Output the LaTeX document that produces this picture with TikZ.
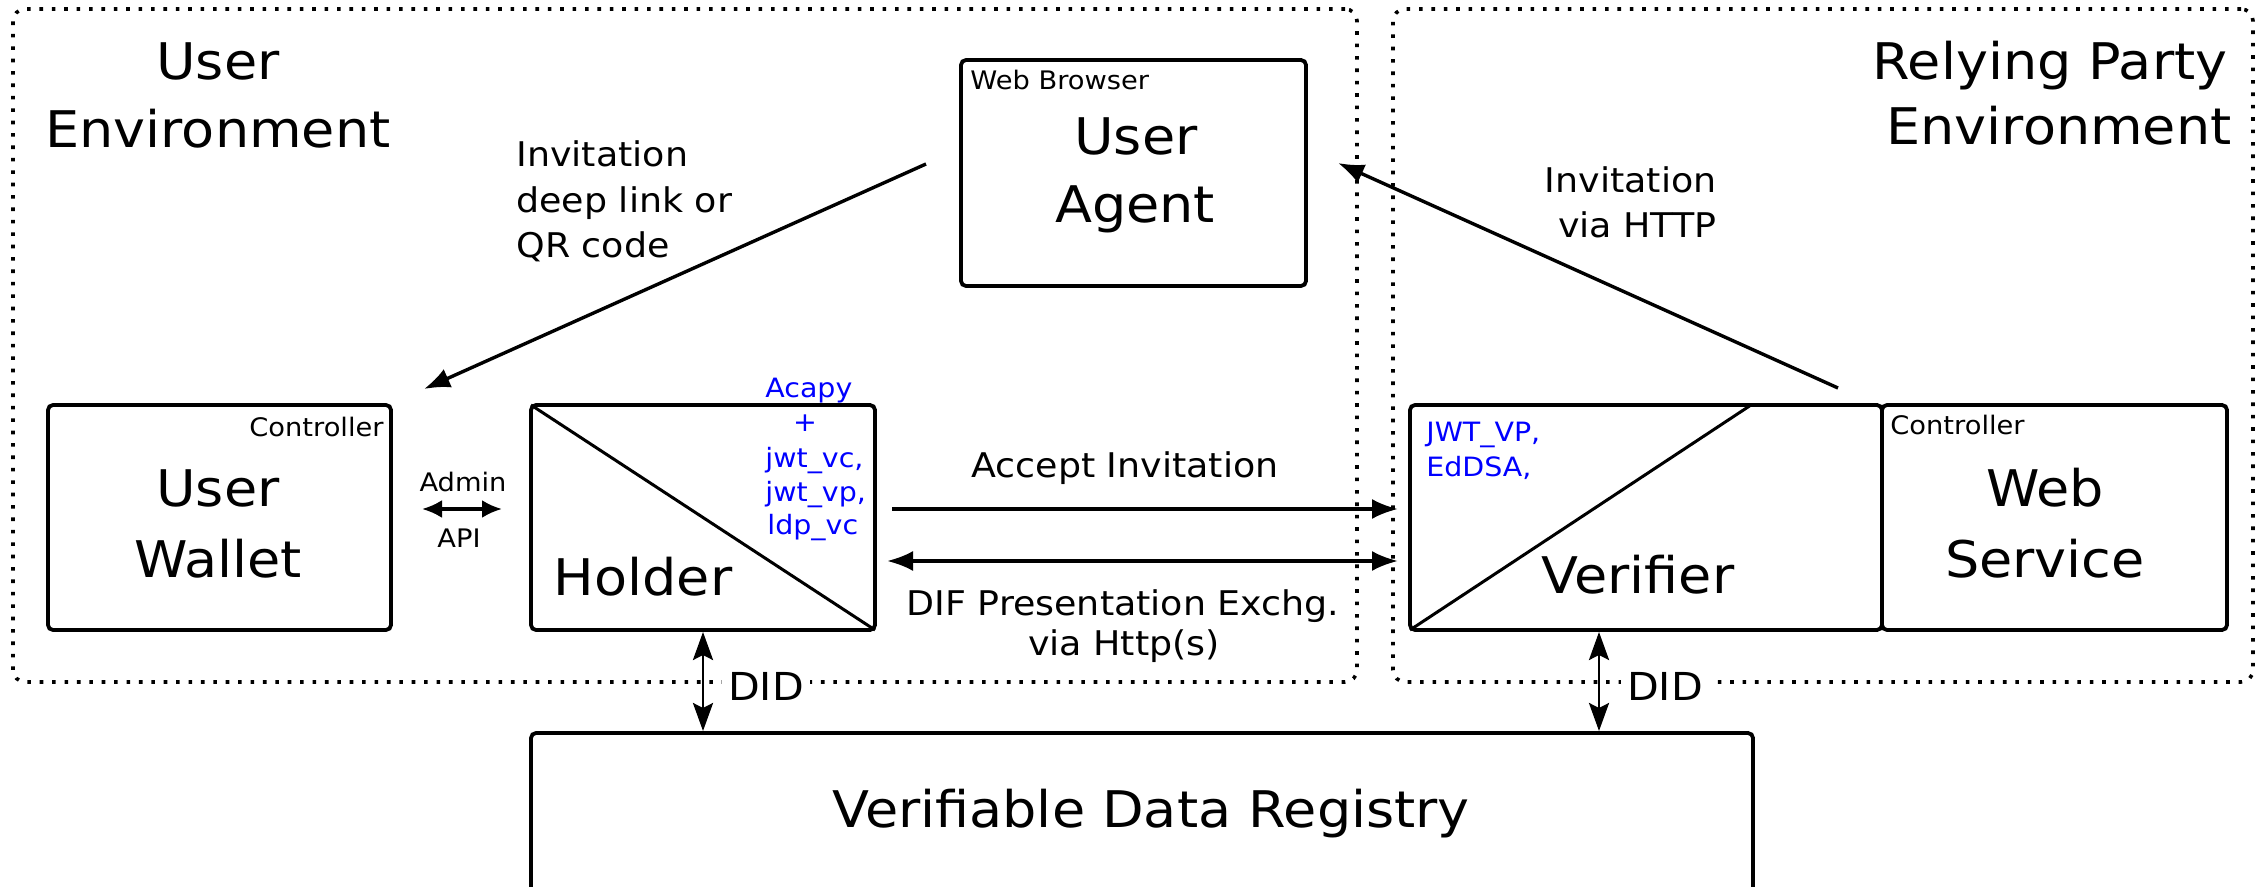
\documentclass[tikz,border=0pt]{standalone}
\usepackage{fontspec}
\setmainfont{DejaVu Sans}[FakeStretch=1.07]
\usetikzlibrary{arrows.meta,fit,calc}
\definecolor{acblue}{RGB}{0,0,255}
\newcommand\fbig{\fontsize{25.25pt}{30pt}\selectfont}
\newcommand\fmed{\fontsize{17pt}{20pt}\selectfont}
\newcommand\fdid{\fontsize{19.25pt}{22pt}\selectfont}
\newcommand\fsmall{\fontsize{12.75pt}{15pt}\selectfont}
\newcommand\fblue{\fontsize{13.3pt}{16pt}\selectfont}
\begin{document}
\begin{tikzpicture}[x=0.5pt,y=-0.5pt,
  env/.style={draw, line width=1.8pt, dash pattern=on 1.8pt off 4.4pt, rounded corners=6pt, inner sep=0pt, outer sep=0pt},
  box/.style={draw, line width=1.9pt, rounded corners=2.5pt, inner sep=0pt, outer sep=0pt},
  diag/.style={line width=1.5pt},
  lbl/.style={inner sep=0pt, anchor=base},
  bl/.style={inner sep=0pt, anchor=base west, text=acblue, font=\fblue},
  did/.style={inner sep=3pt, anchor=base, fill=white, font=\fdid},
  arr/.style={line width=1.7pt, -{Latex[length=13pt,width=10pt]}},
  dblarr/.style={line width=1.7pt, {Latex[length=13pt,width=10pt]}-{Latex[length=13pt,width=10pt]}},
  admarr/.style={line width=1.7pt, {Latex[length=10pt,width=9pt]}-{Latex[length=10pt,width=9pt]}},
  didarr/.style={line width=1.4pt, {Stealth[length=14pt,width=10pt,inset=2.5pt]}-{Stealth[length=14pt,width=10pt,inset=2.5pt]}}
]
\useasboundingbox (0,0) rectangle (2265,887);
\fill[white] (0,0) rectangle (2265,887);

% environments
\node[env, fit={(13,9) (1357,682)}] (uenv) {};
\node[env, fit={(1393,9) (2253,682)}] (renv) {};

% boxes
\node[box, fit={(961,60) (1306,286)}] (ua) {};
\node[box, fit={(48,405) (391,630)}] (uw) {};
\node[box, fit={(531,405) (875,630)}] (holder) {};
\node[box, fit={(1410,405) (1882,630)}] (verifier) {};
\node[box, fit={(1882,405) (2227,630)}] (ws) {};
\node[box, fit={(531,733) (1753,920)}] (vdr) {};

% diagonals
\draw[diag] (holder.north west) -- (holder.south east);
\draw[diag] (verifier.south west) -- ($(verifier.north west)!0.7225!(verifier.north east)$);

% big labels
\node[lbl, font=\fbig] at (218,80) {User};
\node[lbl, font=\fbig] at (218,148) {Environment};
\node[lbl, font=\fbig] at (2050,80) {Relying Party};
\node[lbl, font=\fbig] at (2059,145) {Environment};
\node[lbl, font=\fbig] at (1136,155) {User};
\node[lbl, font=\fbig] at (1135,223) {Agent};
\node[lbl, font=\fbig] at (218,507) {User};
\node[lbl, font=\fbig] at (218,577) {Wallet};
\node[lbl, font=\fbig] at (643,595) {Holder};
\node[lbl, font=\fbig] at (1638,593) {Verifier};
\node[lbl, font=\fbig] at (2045,507) {Web};
\node[lbl, font=\fbig] at (2045,577) {Service};
\node[lbl, font=\fbig] at (1151,827) {Verifiable Data Registry};

% small labels
\node[lbl, font=\fsmall, anchor=base west] at (970,90) {Web Browser};
\node[lbl, font=\fsmall, anchor=base east] at (384,437) {Controller};
\node[lbl, font=\fsmall, anchor=base west] at (1890,435) {Controller};
\node[lbl, font=\fsmall] at (463,492) {Admin};
\node[lbl, font=\fsmall] at (459,547) {API};

% medium labels
\node[lbl, font=\fmed, anchor=base west] at (516,167) {Invitation};
\node[lbl, font=\fmed, anchor=base west] at (516,213) {deep link or};
\node[lbl, font=\fmed, anchor=base west] at (516,258) {QR code};
\node[lbl, font=\fmed, anchor=base east] at (1717,193) {Invitation};
\node[lbl, font=\fmed, anchor=base east] at (1717,238) {via HTTP};
\node[lbl, font=\fmed] at (1125,478) {Accept Invitation};
\node[lbl, font=\fmed] at (1123,615) {DIF Presentation Exchg.};
\node[lbl, font=\fmed] at (1124,655) {via Http(s)};

% blue labels
\node[bl] at (765,398) {Acapy};
\node[bl, anchor=base] at (805,432) {+};
\node[bl] at (765,467) {jwt\_vc,};
\node[bl] at (765,502) {jwt\_vp,};
\node[bl] at (767,534) {ldp\_vc};
\node[bl] at (1426,442) {JWT\_VP,};
\node[bl] at (1426,477) {EdDSA,};

% DID labels
\node[did] (did1) at (766,700) {DID};
\node[did] (did2) at (1665,700) {DID};

% connectors
\draw[arr] ([shift={(-35,-9)}]ua.west) -- ([shift={(33,-16)}]uw.north east);
\draw[arr] ([shift={(-44,-17)}]verifier.north east) -- ([shift={(32,-10)}]ua.east);
\draw[arr] ([shift={(17,-8.5)}]holder.east) -- ([shift={(-12,-8.5)}]verifier.west);
\draw[dblarr] ([shift={(12,43.5)}]holder.east) -- ([shift={(-12,43.5)}]verifier.west);
\draw[admarr] ([shift={(31,-8.5)}]uw.east) -- ([shift={(-29,-8.5)}]holder.west);
\draw[didarr] ([shift={(172,2)}]holder.south west) -- ([shift={(172,-2)}]vdr.north west);
\draw[didarr] ([shift={(189,2)}]verifier.south west) -- ([shift={(1068,-2)}]vdr.north west);
\end{tikzpicture}
\end{document}
